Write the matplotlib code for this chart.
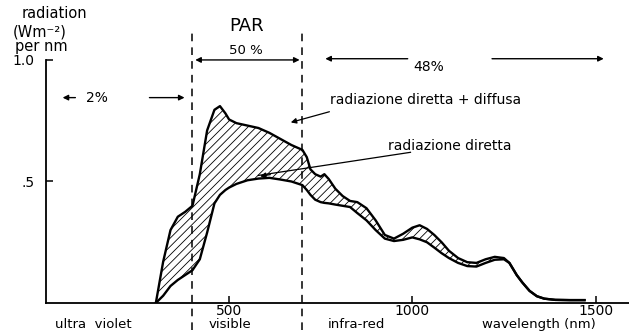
import matplotlib.pyplot as plt

plt.rcParams['font.family'] = ['DejaVu Sans']
plt.rcParams['hatch.linewidth'] = 0.6

# wavelength (nm) e valori (W m-2 per nm)
wavelength = [300, 320, 340, 360, 380, 400, 420, 440, 460, 475, 490, 500, 520, 550,
              580, 610, 640, 670, 700, 712, 722, 735, 750, 760, 772, 790, 810, 830,
              850, 875, 900, 925, 950, 975, 1000, 1020, 1040, 1060, 1080, 1100, 1125,
              1150, 1175, 1200, 1225, 1250, 1265, 1285, 1300, 1320, 1340, 1360, 1390,
              1430, 1470]
diretta_diffusa = [0.0, 0.17, 0.30, 0.355, 0.375, 0.40, 0.53, 0.71, 0.795, 0.81, 0.78,
                   0.755, 0.74, 0.73, 0.72, 0.70, 0.675, 0.65, 0.63, 0.60, 0.55, 0.53,
                   0.52, 0.53, 0.51, 0.47, 0.44, 0.42, 0.415, 0.39, 0.34, 0.28, 0.265,
                   0.285, 0.31, 0.32, 0.305, 0.28, 0.25, 0.215, 0.185, 0.168, 0.165,
                   0.18, 0.19, 0.185, 0.165, 0.115, 0.085, 0.05, 0.028, 0.018, 0.013,
                   0.012, 0.012]
diretta = [0.0, 0.03, 0.07, 0.095, 0.115, 0.135, 0.18, 0.29, 0.41, 0.445, 0.465,
           0.475, 0.49, 0.505, 0.512, 0.515, 0.508, 0.50, 0.485, 0.465, 0.445, 0.425,
           0.415, 0.412, 0.41, 0.405, 0.40, 0.395, 0.37, 0.34, 0.30, 0.265, 0.255,
           0.26, 0.27, 0.262, 0.25, 0.228, 0.205, 0.185, 0.165, 0.152, 0.15, 0.165,
           0.178, 0.18, 0.165, 0.115, 0.085, 0.05, 0.028, 0.018, 0.013, 0.012, 0.012]

fig = plt.figure(figsize=(6.29, 3.33), dpi=100)
ax = fig.add_axes([0.073, 0.09, 0.932, 0.73])

ax.fill_between(wavelength, diretta, diretta_diffusa, facecolor='none',
                edgecolor='black', hatch='////', linewidth=0)
ax.plot(wavelength, diretta_diffusa, color='black', lw=1.7, solid_joinstyle='round')
ax.plot(wavelength, diretta, color='black', lw=1.7, solid_joinstyle='round')

# limiti PAR
for x in [400, 700]:
    ax.plot([x, x], [-0.11, 1.13], color='black', lw=1.1, ls=(0, (5, 4)), clip_on=False)

ax.set_xlim(0, 1600)
ax.set_ylim(0, 1.0)
ax.spines['top'].set_visible(False)
ax.spines['right'].set_visible(False)
ax.spines['left'].set_linewidth(1.3)
ax.spines['bottom'].set_linewidth(1.3)

ax.set_xticks([500, 1000, 1500])
ax.set_xticklabels(['500', '1000', '1500'], fontsize=10)
ax.set_yticks([0.5, 1.0])
ax.set_yticklabels(['.5', '1.0'], fontsize=10)
ax.tick_params(direction='in', length=5, width=1.1)
ax.tick_params(axis='x', pad=1)
ax.tick_params(axis='y', pad=8)

# etichette sotto l'asse
for x, lab in [(25, 'ultra  violet'), (445, 'visible'), (770, 'infra-red'),
               (1190, 'wavelength (nm)')]:
    ax.text(x, -0.088, lab, fontsize=9.5, va='center', ha='left', clip_on=False)

# titolo asse y
fig.text(0.035, 0.958, 'radiation', fontsize=10.5, va='center', ha='left')
fig.text(0.02, 0.904, '(Wm⁻²)', fontsize=10.5, va='center', ha='left')
fig.text(0.024, 0.860, 'per nm', fontsize=10.5, va='center', ha='left')

# PAR e percentuali
ax.text(548, 1.14, 'PAR', fontsize=13, ha='center', va='center', clip_on=False)
ax.text(545, 1.037, '50 %', fontsize=9.5, ha='center', va='center', clip_on=False)
ax.annotate('', xy=(700, 1.0), xytext=(400, 1.0),
            arrowprops=dict(arrowstyle='<|-|>', color='black', lw=1, mutation_scale=8),
            annotation_clip=False)
ax.text(1045, 0.97, '48%', fontsize=10, ha='center', va='center', clip_on=False)
ax.annotate('', xy=(755, 1.005), xytext=(995, 1.005),
            arrowprops=dict(arrowstyle='-|>', color='black', lw=1, mutation_scale=8),
            annotation_clip=False)
ax.annotate('', xy=(1530, 1.005), xytext=(1210, 1.005),
            arrowprops=dict(arrowstyle='-|>', color='black', lw=1, mutation_scale=8),
            annotation_clip=False)
ax.text(140, 0.845, '2%', fontsize=10, ha='center', va='center')
ax.annotate('', xy=(38, 0.845), xytext=(88, 0.845),
            arrowprops=dict(arrowstyle='-|>', color='black', lw=1, mutation_scale=8))
ax.annotate('', xy=(386, 0.845), xytext=(275, 0.845),
            arrowprops=dict(arrowstyle='-|>', color='black', lw=1, mutation_scale=8))

# didascalie delle curve
ax.text(775, 0.835, 'radiazione diretta + diffusa', fontsize=10, ha='left', va='center')
ax.annotate('', xy=(661, 0.74), xytext=(781, 0.79),
            arrowprops=dict(arrowstyle='-|>', color='black', lw=0.9, mutation_scale=8))
ax.text(935, 0.645, 'radiazione diretta', fontsize=10, ha='left', va='center')
ax.plot([995, 580], [0.62, 0.525], color='black', lw=0.9)
ax.annotate('', xy=(577, 0.52), xytext=(620, 0.53),
            arrowprops=dict(arrowstyle='-|>', color='black', lw=0.9, mutation_scale=8))

fig.savefig('out.png', dpi=100)
